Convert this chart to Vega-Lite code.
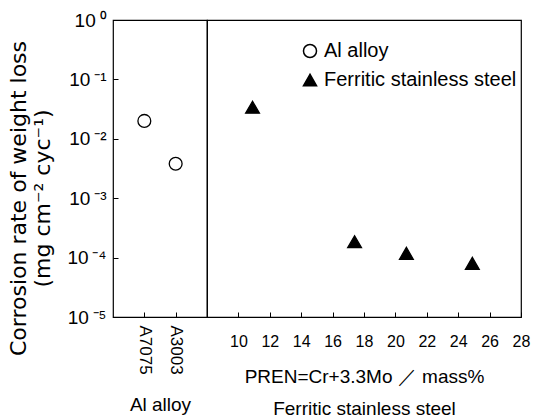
{
  "$schema": "https://vega.github.io/schema/vega-lite/v6.json",
  "padding": {"left": 6, "top": 10, "right": 5, "bottom": 0},
  "background": "white",
  "bounds": "flush",
  "config": {
    "font": "Liberation Sans",
    "concat": {"spacing": 0},
    "axis": {"grid": false, "domain": false, "tickColor": "black", "tickSize": -5, "tickWidth": 1, "labelColor": "black", "titleColor": "black", "titleFontWeight": "normal"}
  },
  "data": {"values": [
    {"group": "Al alloy", "name": "A7075", "rate": 0.02},
    {"group": "Al alloy", "name": "A3003", "rate": 0.0038},
    {"group": "Ferritic stainless steel", "pren": 10.9, "rate": 0.034},
    {"group": "Ferritic stainless steel", "pren": 17.4, "rate": 0.000185},
    {"group": "Ferritic stainless steel", "pren": 20.7, "rate": 0.000118},
    {"group": "Ferritic stainless steel", "pren": 24.9, "rate": 0.00008}
  ]},
  "spacing": 0,
  "hconcat": [
    {
      "width": 94,
      "height": 297,
      "view": {"stroke": "black", "strokeWidth": 1.2},
      "transform": [{"filter": "datum.group == 'Al alloy'"}],
      "mark": {"type": "point", "filled": true, "stroke": "black", "strokeWidth": 1.3, "opacity": 1, "size": 165},
      "encoding": {
        "x": {"field": "name", "type": "nominal", "sort": ["A7075", "A3003"], "scale": {"type": "point", "padding": 1},
          "axis": {"labelAngle": 90, "labelFontSize": 17, "labelPadding": 13, "title": "Al alloy", "titleFontSize": 19, "titleY": 93, "titleBaseline": "alphabetic"}},
        "y": {"field": "rate", "type": "quantitative", "scale": {"type": "log", "domain": [0.00001, 1], "nice": false},
          "axis": {"values": [1, 0.1, 0.01, 0.001, 0.0001, 0.00001],
            "labelExpr": "'10\u2009' + ['⁰','⁻¹','⁻²','⁻³','⁻⁴','⁻⁵'][round(-log(datum.value)/LN10)]",
            "labelFontSize": 19, "labelPadding": 12,
            "title": ["Corrosion rate of weight loss", "(mg cm⁻² cyc⁻¹)"],
            "titleFont": "DejaVu Sans", "titleFontSize": 22, "titleX": -88, "titleY": 178, "titleAngle": -90,
            "titleBaseline": "alphabetic", "titleAlign": "center", "titleLineHeight": 24}},
        "shape": {"field": "group", "type": "nominal", "scale": {"domain": ["Al alloy", "Ferritic stainless steel"], "range": ["circle", "triangle-up"]},
          "legend": {"title": null, "orient": "none", "legendX": 187, "legendY": 21, "labelFontSize": 20, "labelLimit": 400, "symbolSize": 170, "rowPadding": 9, "labelOffset": 4,
            "encode": {"symbols": {"update": {"stroke": {"value": "black"}, "strokeWidth": {"value": 1.3}}}}}},
        "fill": {"field": "group", "type": "nominal", "scale": {"domain": ["Al alloy", "Ferritic stainless steel"], "range": ["white", "black"]},
          "legend": {"title": null, "orient": "none", "legendX": 187, "legendY": 21, "labelFontSize": 20, "labelLimit": 400, "symbolSize": 170, "rowPadding": 9, "labelOffset": 4,
            "encode": {"symbols": {"update": {"stroke": {"value": "black"}, "strokeWidth": {"value": 1.3}}}}}}
      }
    },
    {
      "width": 314,
      "height": 297,
      "view": {"stroke": "black", "strokeWidth": 1.2},
      "transform": [{"filter": "datum.group == 'Ferritic stainless steel'"}],
      "mark": {"type": "point", "filled": true, "stroke": "black", "strokeWidth": 1.3, "opacity": 1, "size": 190},
      "encoding": {
        "x": {"field": "pren", "type": "quantitative", "scale": {"domain": [8, 28], "nice": false, "zero": false},
          "axis": {"values": [10, 12, 14, 16, 18, 20, 22, 24, 26, 28], "labelFontSize": 16, "labelPadding": 21, "labelFlush": false,
            "title": ["PREN=Cr+3.3Mo  ／  mass%", "Ferritic stainless steel"], "titleFontSize": 19, "titleY": 65, "titleBaseline": "alphabetic", "titleLineHeight": 32}},
        "y": {"field": "rate", "type": "quantitative", "scale": {"type": "log", "domain": [0.00001, 1], "nice": false}, "axis": null},
        "shape": {"field": "group", "type": "nominal", "scale": {"domain": ["Al alloy", "Ferritic stainless steel"], "range": ["circle", "triangle-up"]}},
        "fill": {"field": "group", "type": "nominal", "scale": {"domain": ["Al alloy", "Ferritic stainless steel"], "range": ["white", "black"]}}
      }
    }
  ],
  "resolve": {"scale": {"x": "independent", "y": "shared", "shape": "shared", "fill": "shared"}, "axis": {"x": "independent", "y": "independent"}, "legend": {"shape": "shared", "fill": "shared"}}
}
